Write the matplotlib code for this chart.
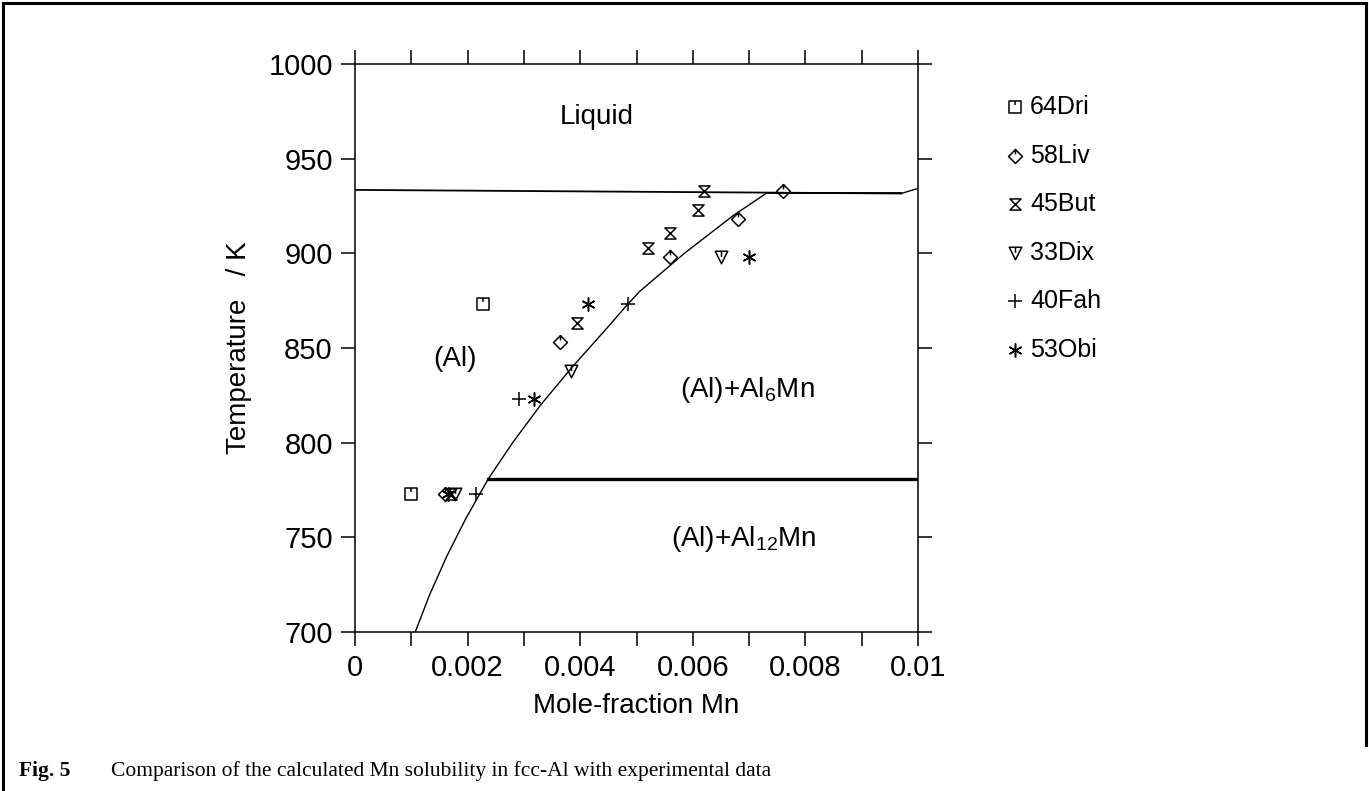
import numpy as np
import matplotlib
matplotlib.use("Agg")
import matplotlib.pyplot as plt
from matplotlib.path import Path
from matplotlib.lines import Line2D

plt.rcParams['font.family'] = ['Liberation Sans', 'DejaVu Sans']
plt.rcParams['mathtext.fontset'] = 'custom'
plt.rcParams['mathtext.rm'] = 'Liberation Sans'

# calculated Al solvus
solvus_T = [700, 720, 740, 760, 781, 800, 820, 840, 860, 873, 880, 900, 920, 931.6]
solvus_x = [0.00107, 0.00133, 0.00163, 0.00197, 0.00237, 0.00280, 0.00330, 0.00386,
            0.00446, 0.00484, 0.00506, 0.00585, 0.00672, 0.00730]

# liquidus / eutectic / peritectoid lines
liq_x = [0.0, 0.0097]
liq_T = [933.5, 931.6]
eut_x = [0.0073, 0.0097]
eut_T = [931.6, 931.6]
al6_liq_x = [0.0097, 0.0100]
al6_liq_T = [931.6, 934.3]
perit_x = [0.00236, 0.0100]
perit_T = [781, 781]

# experimental data
dri_x = [0.00100, 0.00228]
dri_T = [773, 873]
liv_x = [0.00160, 0.00364, 0.00560, 0.00680, 0.00760]
liv_T = [773, 853, 898, 918, 933]
but_x = [0.00170, 0.00394, 0.00520, 0.00560, 0.00610, 0.00620]
but_T = [773, 863, 903, 911, 923, 933]
dix_x = [0.00178, 0.00384, 0.00650]
dix_T = [773, 838, 898]
fah_x = [0.00215, 0.00292, 0.00484]
fah_T = [773, 823, 873]
obi_x = [0.00165, 0.00318, 0.00414, 0.00700]
obi_T = [773, 823, 873, 898]

labels = ['64Dri', '58Liv', '45But', '33Dix', '40Fah', '53Obi']

# marker shapes
M, L, C = Path.MOVETO, Path.LINETO, Path.CLOSEPOLY
sq_tick = Path([(-1, -1), (1, -1), (1, 1), (-1, 1), (-1, -1), (0, 1), (0, 0.3)],
               [M, L, L, L, C, M, L])
dia_tick = Path([(0, 1), (1, 0), (0, -1), (-1, 0), (0, 1), (0, 1), (0, 0.3)],
                [M, L, L, L, C, M, L])
hourglass = Path([(-1, 1), (1, 1), (-1, -1), (1, -1), (-1, 1)], [M, L, L, L, C])
tri_tick = Path([(-1, 1), (1, 1), (0, -1), (-1, 1), (0, 1), (0, 0.1)],
                [M, L, L, C, M, L])

series = [
    (dri_x, dri_T, sq_tick, 8),
    (liv_x, liv_T, dia_tick, 10),
    (but_x, but_T, hourglass, 8),
    (dix_x, dix_T, tri_tick, 9),
    (fah_x, fah_T, '+', 10),
    (obi_x, obi_T, (6, 2, 0), 10),
]

fig = plt.figure(figsize=(13.69, 7.91), dpi=100)
ax = fig.add_axes([0.2593, 0.2010, 0.4113, 0.7181])

ax.plot(solvus_x, solvus_T, '-', color='black', lw=1.0)
ax.plot(liq_x, liq_T, '-', color='black', lw=1.3)
ax.plot(eut_x, eut_T, '-', color='black', lw=1.3)
ax.plot(al6_liq_x, al6_liq_T, '-', color='black', lw=1.0)
ax.plot(perit_x, perit_T, '-', color='black', lw=2.4)

for xs, ts, mk, ms in series:
    ax.plot(xs, ts, linestyle='none', marker=mk, ms=ms, mfc='none',
            mec='black', mew=1.1)

ax.set_xlim(0, 0.01)
ax.set_ylim(700, 1000)
ax.set_xticks([0, 0.002, 0.004, 0.006, 0.008, 0.01])
ax.set_xticklabels(['0', '0.002', '0.004', '0.006', '0.008', '0.01'])
ax.set_xticks(np.arange(0.001, 0.01, 0.002), minor=True)
ax.set_yticks(np.arange(700, 1001, 50))
ax.tick_params(which='both', direction='out', length=10, width=1.1,
               top=True, right=True, labelsize=21, pad=6)
ax.tick_params(axis='y', labelright=False)
for s in ax.spines.values():
    s.set_linewidth(1.1)

ax.set_xlabel('Mole-fraction Mn', fontsize=20, labelpad=8)
ax.set_ylabel('Temperature   / K', fontsize=20, labelpad=12)

ax.text(0.0043, 972, 'Liquid', fontsize=20, ha='center', va='center')
ax.text(0.00178, 844, '(Al)', fontsize=20, ha='center', va='center')
ax.text(0.00696, 828, '(Al)+Al$_{6}$Mn', fontsize=20, ha='center', va='center')
ax.text(0.0069, 749, '(Al)+Al$_{12}$Mn', fontsize=20, ha='center', va='center')

# legend on the right
leg_y0 = 1 - 107 / 791
leg_dy = 48.6 / 791
for i, (lab, (xs, ts, mk, ms)) in enumerate(zip(labels, series)):
    y = leg_y0 - i * leg_dy
    fig.add_artist(Line2D([1015 / 1369], [y], transform=fig.transFigure,
                          marker=mk, ms=ms, mfc='none', mec='black', mew=1.1,
                          linestyle='none'))
    fig.text(1030 / 1369, y, lab, fontsize=18, va='center', ha='left')

# frame round the figure
fig.add_artist(Line2D([3 / 1369, 3 / 1369], [0, 1 - 3 / 791], color='black', lw=2.2))
fig.add_artist(Line2D([3 / 1369, 1366 / 1369], [1 - 3 / 791, 1 - 3 / 791], color='black', lw=2.2))
fig.add_artist(Line2D([1366 / 1369, 1366 / 1369], [1 - 3 / 791, 1 - 745 / 791], color='black', lw=2.2))

fig.text(19 / 1369, 1 - 771 / 791, 'Fig. 5', fontsize=15.5, fontweight='bold',
         family='Liberation Serif', va='center')
fig.text(111 / 1369, 1 - 771 / 791,
         'Comparison of the calculated Mn solubility in fcc-Al with experimental data',
         fontsize=15.5, family='Liberation Serif', va='center')

fig.savefig('out.png', dpi=100)
